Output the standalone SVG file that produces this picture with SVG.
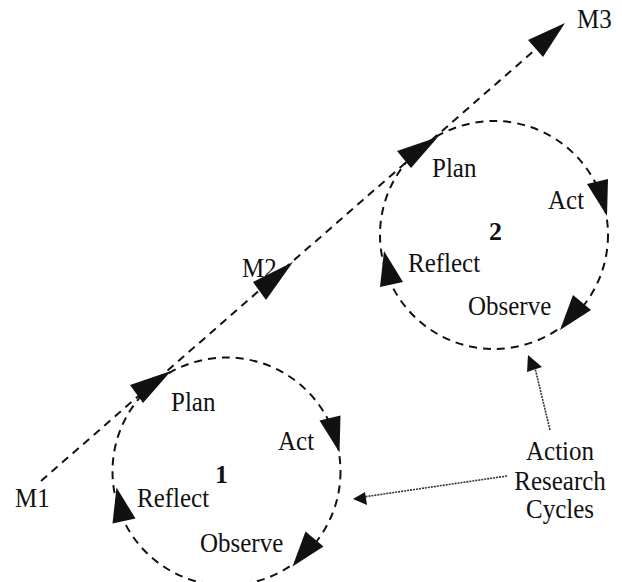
<svg xmlns="http://www.w3.org/2000/svg" width="622" height="582" viewBox="0 0 622 582">
<style>
.t{font-family:"Liberation Serif","Times New Roman",serif;font-size:25px;fill:#111}
.n{font-family:"Liberation Serif","Times New Roman",serif;font-size:26px;font-weight:bold;fill:#111}
.dash{fill:none;stroke:#111;stroke-width:2;stroke-dasharray:8 6}
.dot{fill:none;stroke:#333;stroke-width:1.6;stroke-dasharray:2 1}
.ah{fill:#111}
</style>
<defs>
<g id="cyc">
<circle class="dash" cx="0" cy="0" r="114"/>
<polygon class="ah" points="93,-51 114,-56 113,-19"/>
<polygon class="ah" points="79,60 97,75 66,95"/>
<polygon class="ah" points="-110,16 -114,52 -91,47"/>
</g>
</defs>
<rect width="622" height="582" fill="#fff"/>
<g id="connectors">
<line class="dash" x1="41" y1="481" x2="560" y2="28"/>
<polygon class="ah" points="171,371 130,385 143,403"/>
<polygon class="ah" points="293,262 253,282 266,300"/>
<polygon class="ah" points="438,137 397,151 411,168"/>
<polygon class="ah" points="565,23 528,40 543,57"/>
<line class="dot" x1="550" y1="430" x2="535" y2="368"/>
<polygon class="ah" points="528,355 527,372 542,367"/>
<line class="dot" x1="507" y1="476" x2="363" y2="497"/>
<polygon class="ah" points="353,499 365,492 367,505"/>
</g>
<g id="cycle1">
<use href="#cyc" transform="translate(226.5,471.5)"/>
<text class="t" transform="matrix(1,0,0,1.12,171,411)">Plan</text>
<text class="t" transform="matrix(1,0,0,1.12,278,450)">Act</text>
<text class="n" transform="matrix(1,0,0,1.0,215,483)">1</text>
<text class="t" transform="matrix(1,0,0,1.12,137,507)">Reflect</text>
<text class="t" transform="matrix(1,0,0,1.12,200,552)">Observe</text>
</g>
<g id="cycle2">
<use href="#cyc" transform="translate(494,235)"/>
<text class="t" transform="matrix(1,0,0,1.12,432,177)">Plan</text>
<text class="t" transform="matrix(1,0,0,1.12,548,209)">Act</text>
<text class="n" transform="matrix(1,0,0,1.0,489,240)">2</text>
<text class="t" transform="matrix(1,0,0,1.12,408,272)">Reflect</text>
<text class="t" transform="matrix(1,0,0,1.12,468,315)">Observe</text>
</g>
<g id="m1"><text class="t" transform="matrix(1,0,0,1.12,15,507)">M1</text></g>
<g id="m2"><text class="t" transform="matrix(1,0,0,1.12,242,277)">M2</text></g>
<g id="m3"><text class="t" transform="matrix(1,0,0,1.12,577,28)">M3</text></g>
<g id="annotation">
<text class="t" text-anchor="middle" transform="matrix(1,0,0,1.12,560,460)">Action</text>
<text class="t" text-anchor="middle" transform="matrix(1,0,0,1.12,560,490)">Research</text>
<text class="t" text-anchor="middle" transform="matrix(1,0,0,1.12,560,518)">Cycles</text>
</g>
</svg>
